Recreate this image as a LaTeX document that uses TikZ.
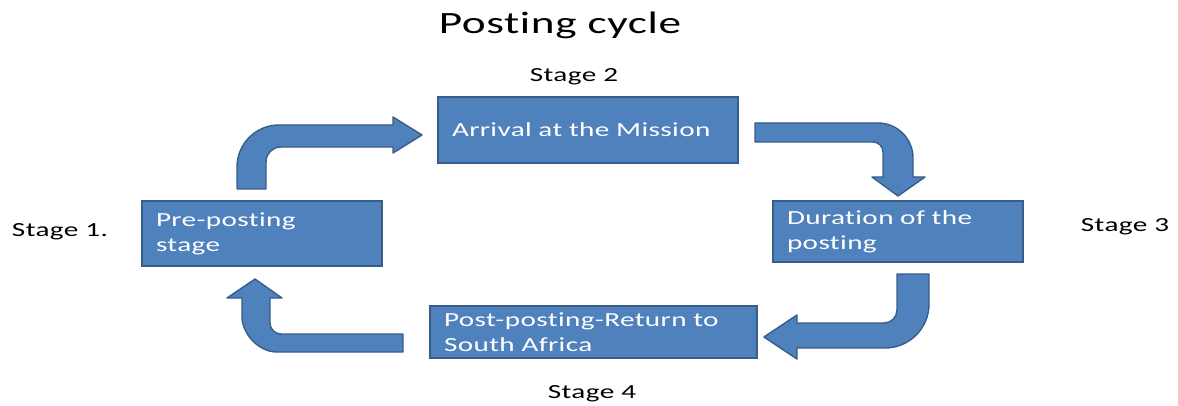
\documentclass[tikz,border=0pt]{standalone}
\usepackage{fontspec}
\setmainfont{Carlito}[FakeStretch=1.46, LetterSpace=2, RawFeature={-liga;-clig;-calt;-dlig}]
\definecolor{boxfill}{HTML}{4F81BD}
\definecolor{boxline}{HTML}{385D8A}
\tikzset{
  stagebox/.style={draw=boxline, fill=boxfill, line width=1.6pt, text=white,
    inner xsep=14pt, inner ysep=0pt, align=left,
    font=\fontsize{20pt}{25pt}\selectfont},
  blockarrow/.style={draw=boxline, fill=boxfill, line width=1.4pt, line join=round},
  stagelabel/.style={text=black, inner sep=0pt, font=\fontsize{20pt}{24pt}\selectfont},
  titlelabel/.style={text=black, inner sep=0pt, font=\fontsize{31pt}{36pt}\selectfont}
}
\begin{document}
\begin{tikzpicture}[x=1pt, y=-1pt]
\path[use as bounding box, fill=white] (0,0) rectangle (1178,406);

% title and stage labels
\node[titlelabel] (title) at (560,25) {Posting cycle};
\node[stagelabel] (s1) at (60,232) {Stage 1.};
\node[stagelabel] (s2) at (574,77) {Stage 2};
\node[stagelabel] (s3) at (1125,227) {Stage 3};
\node[stagelabel] (s4) at (592,394) {Stage 4};

% boxes
\node[stagebox, text width=212pt, minimum height=65pt] (pre) at (262,233.5) {Pre-posting\\stage};
\node[stagebox, text width=272pt, minimum height=66pt] (arrival) at (588,130) {Arrival at the Mission};
\node[stagebox, text width=222pt, minimum height=61pt] (duration) at (898,231.5) {Duration of the\\posting};
\node[stagebox, text width=299pt, minimum height=52pt] (post) at (593.5,332) {Post-posting-Return to\\South Africa};

% bent block arrows
\draw[blockarrow] (237,189) -- (237,167) .. controls (237,143.8) and (255.8,125) .. (279,125)
  -- (393,125) -- (393,117) -- (422,135) -- (393,153) -- (393,147) -- (281,147)
  .. controls (272.7,147) and (266,153.7) .. (266,162) -- (266,189) -- cycle;

\draw[blockarrow] (755,123) -- (878,123) .. controls (897.3,123) and (913,138.7) .. (913,158)
  -- (913,177) -- (925,177) -- (898,196) -- (872,177) -- (883,177) -- (883,152)
  .. controls (883,146.5) and (878.5,142) .. (873,142) -- (755,142) -- cycle;

\draw[blockarrow] (897,274) -- (929,274) -- (929,304) .. controls (929,328.3) and (909.3,348) .. (885,348)
  -- (797,348) -- (797,359) -- (764,337) -- (797,315) -- (797,323) -- (884,323)
  .. controls (891.2,323) and (897,317.2) .. (897,310) -- cycle;

\draw[blockarrow] (403,334) -- (403,352) -- (277,352) .. controls (257.7,352) and (242,332.7) .. (242,317)
  -- (242,298) -- (227,298) -- (255,279) -- (282,298) -- (270,298) -- (270,323)
  .. controls (270,329.1) and (274.9,334) .. (281,334) -- cycle;
\end{tikzpicture}
\end{document}
